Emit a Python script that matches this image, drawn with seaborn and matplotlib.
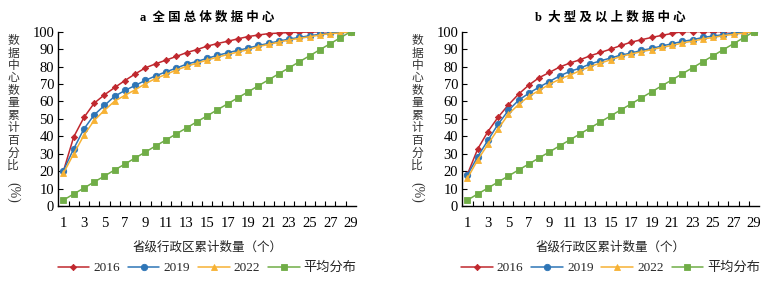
import numpy as np
import pandas as pd
import seaborn as sns
import matplotlib.pyplot as plt
from matplotlib.ticker import MultipleLocator, FixedLocator

# ---- data ----
provinces = list(range(1, 30))

a_2016 = [20.0, 39.6, 50.8, 59.0, 63.8, 68.0, 72.0, 75.8, 79.3, 81.6, 83.7, 85.8, 88.0, 89.7,
          91.7, 93.2, 94.5, 95.9, 97.2, 98.1, 98.9, 99.2, 99.5, 99.7, 99.8, 99.9, 100.0, 100.0, 100.0]
a_2019 = [20.3, 32.8, 44.2, 52.3, 57.7, 63.0, 66.3, 69.2, 72.1, 74.7, 77.0, 79.1, 81.4, 82.9,
          84.7, 86.4, 87.9, 89.3, 90.6, 92.1, 93.3, 94.6, 95.8, 96.7, 97.7, 98.5, 99.2, 99.8, 100.0]
a_2022 = [18.8, 29.9, 40.6, 49.1, 54.9, 60.2, 63.5, 66.7, 70.2, 73.2, 75.5, 78.0, 80.1, 82.0,
          83.7, 85.4, 86.9, 88.3, 89.7, 91.5, 92.7, 94.0, 95.2, 96.2, 97.1, 98.1, 98.9, 99.2, 100.0]

b_2016 = [18.2, 32.7, 42.7, 51.0, 58.0, 64.2, 69.4, 73.6, 76.6, 79.7, 82.0, 83.9, 86.2, 88.1,
          90.0, 92.1, 94.0, 95.4, 96.7, 97.9, 99.0, 100.0, 100.0, 100.0, 100.0, 100.0, 100.0, 100.0, 100.0]
b_2019 = [17.8, 28.3, 37.7, 47.0, 54.8, 60.7, 64.7, 68.2, 71.4, 74.6, 77.2, 79.1, 81.5, 83.3,
          84.9, 86.6, 87.7, 89.3, 90.4, 91.8, 93.1, 94.4, 95.4, 96.7, 97.5, 98.3, 99.2, 99.8, 100.0]
b_2022 = [15.9, 26.4, 35.4, 44.2, 52.6, 58.3, 62.9, 66.3, 69.8, 72.7, 75.1, 77.6, 80.0, 82.0,
          83.9, 85.8, 87.2, 88.5, 89.7, 91.0, 92.1, 93.5, 94.6, 95.8, 96.7, 97.7, 98.5, 99.2, 100.0]

even = [3.4, 6.9, 10.3, 13.8, 17.2, 20.7, 24.1, 27.6, 31.0, 34.5, 37.9, 41.4, 44.8, 48.3, 51.7,
        55.2, 58.6, 62.1, 65.5, 69.0, 72.4, 75.9, 79.3, 82.8, 86.2, 89.7, 93.1, 96.6, 100.0]

series_names = ["2016", "2019", "2022", "平均分布"]
titles = ["a  全 国 总 体 数 据 中 心", "b  大 型 及 以 上 数 据 中 心"]
ylabel_chars = "数据中心数量累计百分比"
xlabel = "省级行政区累计数量（个）"

palette = {"2016": "#C0282E", "2019": "#2E75B6", "2022": "#F7B234", "平均分布": "#70AD47"}
markers = {"2016": "D", "2019": "o", "2022": "^", "平均分布": "s"}
msizes = {"2016": 3.2, "2019": 4.6, "2022": 4.6, "平均分布": 5.0}


def make_frame(s16, s19, s22):
    rows = []
    for name, vals in zip(series_names, [s16, s19, s22, even]):
        for p, v in zip(provinces, vals):
            rows.append({"省份": p, "比例": v, "系列": name})
    return pd.DataFrame(rows)


sns.set_theme(style="white")
plt.rcParams['font.family'] = ['Liberation Serif', 'Noto Sans CJK SC']
plt.rcParams['axes.unicode_minus'] = False

fig = plt.figure(figsize=(7.77, 2.83), dpi=100)
ax_a = fig.add_axes([0.075, 0.272, 0.383, 0.616])
ax_b = fig.add_axes([0.595, 0.272, 0.382, 0.616])

frames = [make_frame(a_2016, a_2019, a_2022), make_frame(b_2016, b_2019, b_2022)]

for ax, df, title in zip([ax_a, ax_b], frames, titles):
    for name in series_names:
        sub = df[df["系列"] == name]
        sns.lineplot(data=sub, x="省份", y="比例", ax=ax, color=palette[name],
                     marker=markers[name], markersize=msizes[name], markeredgewidth=0.6,
                     markeredgecolor=palette[name], linewidth=1.1, label=name, legend=False)
    ax.set_xlim(0.5, 29.5)
    ax.set_ylim(0, 100)
    ax.xaxis.set_major_locator(FixedLocator(list(range(1, 30, 2))))
    ax.xaxis.set_minor_locator(FixedLocator([i + 0.5 for i in range(1, 29)]))
    ax.yaxis.set_major_locator(MultipleLocator(10))
    ax.tick_params(axis="x", which="major", length=0, pad=8, labelsize=10.5, colors="black")
    ax.tick_params(axis="x", which="minor", direction="in", length=3.5, width=0.8, color="black", bottom=True)
    ax.tick_params(axis="y", which="major", direction="in", length=3.5, width=0.8, pad=3,
                   labelsize=10.5, colors="black", left=True)
    for side in ["top", "right"]:
        ax.spines[side].set_visible(False)
    for side in ["left", "bottom"]:
        ax.spines[side].set_color("black")
        ax.spines[side].set_linewidth(1.0)
    ax.set_xlabel(xlabel, fontsize=9, labelpad=8, color="#222222")
    ax.set_ylabel("")
    ax.set_title(title, fontsize=9, fontweight="bold", pad=8, color="black")
    ax.grid(False)

    # stacked vertical y label
    left_px = ax.get_position().x0 * 777 - 45
    for i, ch in enumerate(ylabel_chars):
        fig.text(left_px / 777, 1 - (41 + i * 12.5) / 283, ch, fontsize=8.5, color="#333333",
                 ha="center", va="center")
    fig.text(left_px / 777, 1 - 192 / 283, "(%)", fontsize=10, color="#333333",
             ha="center", va="center", rotation=-90)

    handles, labels = ax.get_legend_handles_labels()
    cx = (ax.get_position().x0 + ax.get_position().x1) / 2
    fig.legend(handles, labels, loc="center", bbox_to_anchor=(cx, 0.053), ncol=4,
               frameon=False, fontsize=9.5, handlelength=2.4, columnspacing=0.6,
               handletextpad=0.3, borderaxespad=0)

fig.savefig("out.png", dpi=100)
